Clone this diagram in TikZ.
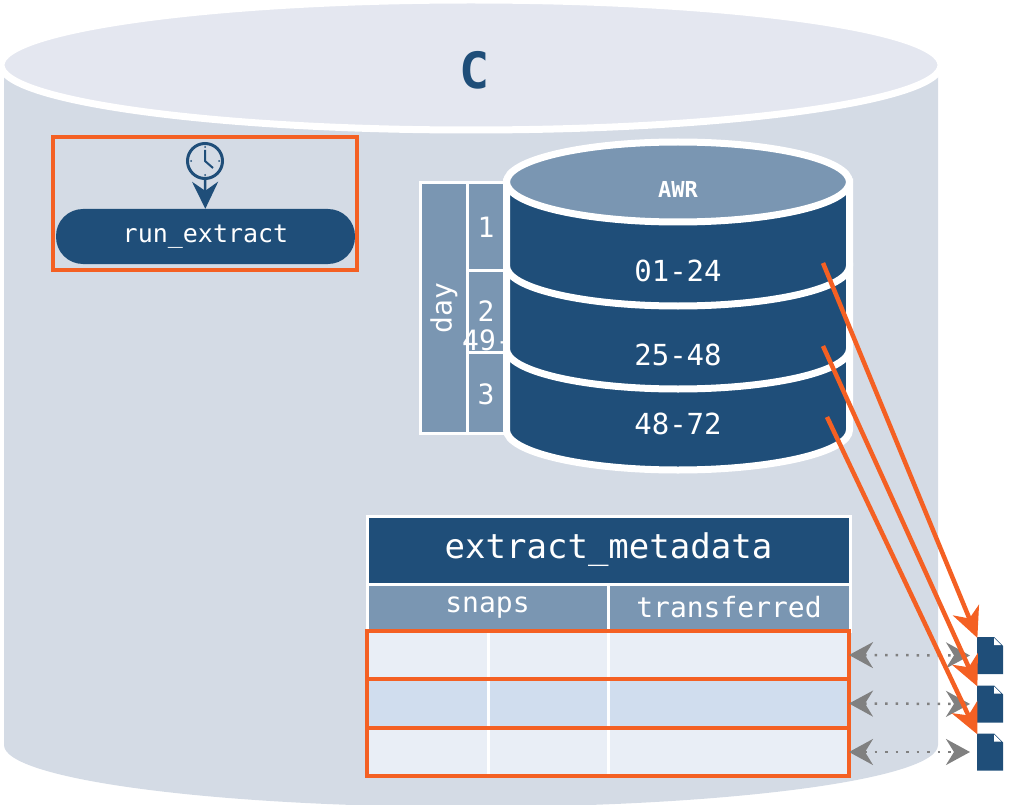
\documentclass[tikz,border=0pt]{standalone}
\usepackage{fontspec}
\setmonofont{DejaVu Sans Mono}
\usetikzlibrary{arrows.meta}
\definecolor{navy}{HTML}{1F4E79}
\definecolor{steel}{HTML}{7A96B2}
\definecolor{drum}{HTML}{D4DBE5}
\definecolor{drumtop}{HTML}{E4E7F0}
\definecolor{rowa}{HTML}{E9EEF6}
\definecolor{rowb}{HTML}{D0DDEE}
\definecolor{hot}{HTML}{F46023}
\definecolor{link}{HTML}{808080}
\begin{document}
\begin{tikzpicture}[x=1pt,y=-1pt,font=\ttfamily,text=white,
    cell/.style={draw=white,line width=3pt,inner sep=0pt,outer sep=0pt,anchor=north west},
    mark box/.style={draw=hot,line width=4pt},
    flow/.style={-{Stealth[length=30pt,width=28pt,inset=9pt]},draw=hot,line width=4.5pt,shorten >=-1pt},
    sync/.style={{Stealth[length=24pt,width=26pt,inset=8pt]}-{Stealth[length=24pt,width=26pt,inset=8pt]},
        draw=link,line width=2.5pt,dash pattern=on 2.5pt off 8pt,shorten >=7pt},
    layer/.style={fill=navy,draw=white,line width=7pt}]
  \useasboundingbox (0,0) rectangle (1009,805);

  % big cylinder
  \fill[drum] (4,65) -- (4,745) arc[start angle=180,end angle=0,x radius=467,y radius=62] -- (938,65) -- cycle;
  \draw[fill=drumtop,draw=white,line width=7pt] (471,65) circle[x radius=470,y radius=65];
  \node[text=navy,font=\ttfamily\bfseries\fontsize{50}{50}\selectfont] (drive) at (475,70) {C};

  % job
  \node[circle,draw=navy,line width=3pt,minimum size=35pt,inner sep=0pt] (clock) at (205,161) {};
  \draw[navy,line width=2pt] (205,150) -- (clock.center) -- (213,168);
  \foreach \a in {0,90,180,270}
    \fill[navy] (clock.center) ++(\a:14) circle[radius=1pt];
  \node[fill=navy,rounded corners=27pt,minimum width=299pt,minimum height=55pt,inner sep=0pt,
      font=\ttfamily\fontsize{25}{25}\selectfont] (job) at (205.5,236.5) {run\_extract};
  \draw[navy,line width=2.5pt,-{Stealth[length=27pt,width=26pt,inset=9pt]}] (clock) -- (job);
  \node[mark box,minimum width=304pt,minimum height=133pt,inner sep=0pt] (jobbox) at (205,203.5) {};

  % day table
  \node[cell,fill=steel,minimum width=47pt,minimum height=250pt] (day) at (420,183) {};
  \node[rotate=90,font=\ttfamily\fontsize{28}{28}\selectfont] (daylabel) at (444,308) {day};
  \node[cell,fill=steel,minimum width=50pt,minimum height=87pt] (d1) at (467,183) {};
  \node[cell,fill=steel,minimum width=50pt,minimum height=82pt] (d2) at (467,270) {};
  \node[cell,fill=steel,minimum width=50pt,minimum height=81pt] (d3) at (467,352) {};
  \foreach \n/\y in {1/227,2/311,3/394}
    \node[font=\ttfamily\fontsize{28}{28}\selectfont] (num\n) at (486,\y) {\n};
  \node[anchor=west,inner sep=0pt,font=\ttfamily\fontsize{28}{28}\selectfont] (cut) at (462,340) {49-};

  % AWR cylinder
  \draw[layer] (506.5,349) -- (506.5,430) arc[start angle=180,end angle=0,x radius=171.5,y radius=40] -- (849.5,349) -- cycle;
  \draw[layer] (506.5,266) -- (506.5,349) arc[start angle=180,end angle=0,x radius=171.5,y radius=40] -- (849.5,266) -- cycle;
  \draw[layer] (506.5,182) -- (506.5,266) arc[start angle=180,end angle=0,x radius=171.5,y radius=40] -- (849.5,182) -- cycle;
  \draw[fill=steel,draw=white,line width=7pt] (678,182) circle[x radius=171.5,y radius=40];
  \node[font=\ttfamily\bfseries\fontsize{22}{22}\selectfont] (awr) at (678,189) {AWR};
  \foreach \n/\t/\y in {a/01-24/271,b/25-48/355,c/48-72/424}
    \node[font=\ttfamily\fontsize{29}{29}\selectfont] (part\n) at (678,\y) {\t};

  % table
  \node[cell,fill=navy,minimum width=483pt,minimum height=68pt,font=\ttfamily\fontsize{34}{34}\selectfont] (meta) at (367,516) {extract\_metadata};
  \node[cell,fill=steel,minimum width=241pt,minimum height=47pt,font=\ttfamily\fontsize{28}{28}\selectfont] (snaps) at (367,584) {snaps};
  \node[cell,fill=steel,minimum width=242pt,minimum height=47pt,font=\ttfamily\fontsize{28}{28}\selectfont] (moved) at (608,584) {transferred};
  \foreach \r/\y/\h/\c in {1/631/48/rowa,2/679/49/rowb,3/728/48/rowa} {
    \node[cell,fill=\c,minimum width=121pt,minimum height=\h pt] (cella\r) at (367,\y) {};
    \node[cell,fill=\c,minimum width=120pt,minimum height=\h pt] (cellb\r) at (488,\y) {};
    \node[cell,fill=\c,minimum width=241pt,minimum height=\h pt] (cellc\r) at (608,\y) {};
    \node[mark box,anchor=north west,inner sep=0pt,outer sep=0pt,minimum width=482pt,minimum height=\h pt] (row\r) at (367,\y) {};
  }

  % files
  \foreach \r/\y in {1/655.5,2/704,3/752} {
    \node[minimum width=26pt,minimum height=37pt,inner sep=0pt,outer sep=0pt] (file\r) at (990,\y) {};
    \fill[navy] (file\r.north west) -- ++(17,0) -- ++(9,9) -- (file\r.south east) -- (file\r.south west) -- cycle;
    \fill[white] (file\r.north west) ++(17,1) -- ++(0,7) -- ++(7,0) -- cycle;
    \draw[sync] (row\r.east) -- (file\r.west);
  }

  % transfers
  \coordinate (starta) at (823,263);
  \coordinate (startb) at (823,346);
  \coordinate (startc) at (827,417);
  \draw[flow] (starta) -- (file1.north west);
  \draw[flow] (startb) -- (file2.north west);
  \draw[flow] (startc) -- (file3.north west);
\end{tikzpicture}
\end{document}
